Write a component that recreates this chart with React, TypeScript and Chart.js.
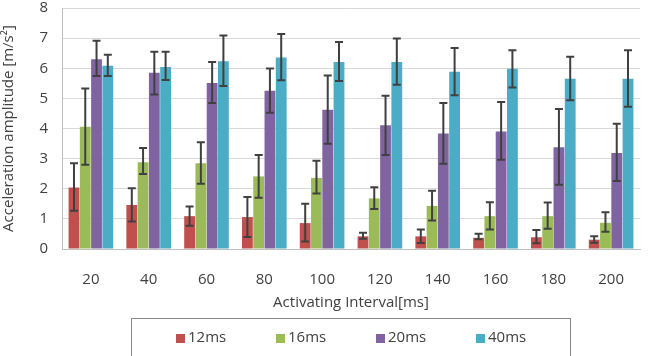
import React, { useEffect, useRef } from "react";
import { Chart, registerables } from "chart.js";

Chart.register(...registerables);

const categories = ["20", "40", "60", "80", "100", "120", "140", "160", "180", "200"];
const seriesNames = ["12ms", "16ms", "20ms", "40ms"];
const seriesColors = ["#C0504D", "#9BBB59", "#8064A2", "#4BACC6"];

const values12 = [2.04, 1.46, 1.09, 1.06, 0.86, 0.42, 0.42, 0.37, 0.39, 0.31];
const low12 = [1.27, 0.91, 0.77, 0.40, 0.25, 0.34, 0.20, 0.32, 0.19, 0.21];
const high12 = [2.85, 2.02, 1.41, 1.73, 1.50, 0.54, 0.65, 0.51, 0.63, 0.42];

const values16 = [4.06, 2.88, 2.85, 2.41, 2.36, 1.68, 1.43, 1.09, 1.09, 0.87];
const low16 = [2.80, 2.49, 2.17, 1.70, 1.84, 1.33, 0.95, 0.65, 0.67, 0.57];
const high16 = [5.33, 3.35, 3.54, 3.12, 2.93, 2.05, 1.93, 1.55, 1.54, 1.22];

const values20 = [6.30, 5.85, 5.51, 5.25, 4.62, 4.11, 3.83, 3.90, 3.38, 3.19];
const low20 = [5.74, 5.13, 4.85, 4.52, 3.49, 3.12, 2.83, 2.96, 2.13, 2.26];
const high20 = [6.91, 6.55, 6.21, 5.99, 5.76, 5.09, 4.85, 4.88, 4.65, 4.16];

const values40 = [6.08, 6.04, 6.23, 6.36, 6.21, 6.21, 5.88, 5.98, 5.65, 5.65];
const low40 = [5.74, 5.61, 5.41, 5.60, 5.58, 5.45, 5.10, 5.36, 4.94, 4.72];
const high40 = [6.45, 6.55, 7.09, 7.14, 6.87, 6.99, 6.67, 6.60, 6.38, 6.60];

const yTicks = [0, 1, 2, 3, 4, 5, 6, 7, 8];

const FONT = "'Open Sans', 'Liberation Sans', sans-serif";
const TEXT = "#404040";

export default function App() {
  const ref = useRef<HTMLCanvasElement | null>(null);

  useEffect(() => {
    document.body.style.margin = "0";
    const canvas = ref.current;
    if (!canvas) return;

    const allValues = [values12, values16, values20, values40];
    const lows = [low12, low16, low20, low40];
    const highs = [high12, high16, high20, high40];

    const errorBars = {
      id: "errorBars",
      afterDatasetsDraw(chart: any) {
        const ctx = chart.ctx;
        const yScale = chart.scales.y;
        ctx.save();
        ctx.strokeStyle = "#404040";
        ctx.lineWidth = 2;
        chart.data.datasets.forEach((_ds: any, di: number) => {
          const meta = chart.getDatasetMeta(di);
          meta.data.forEach((bar: any, i: number) => {
            const x = bar.x;
            const yl = yScale.getPixelForValue(lows[di][i]);
            const yh = yScale.getPixelForValue(highs[di][i]);
            const cap = 4;
            ctx.beginPath();
            ctx.moveTo(x, yl);
            ctx.lineTo(x, yh);
            ctx.moveTo(x - cap, yl);
            ctx.lineTo(x + cap, yl);
            ctx.moveTo(x - cap, yh);
            ctx.lineTo(x + cap, yh);
            ctx.stroke();
          });
        });
        ctx.restore();
      },
    };

    const legendBox = {
      id: "legendBox",
      afterDraw(chart: any) {
        const ctx = chart.ctx;
        ctx.save();
        ctx.strokeStyle = "#888888";
        ctx.lineWidth = 1;
        ctx.strokeRect(131.5, 318.5, 439, 60);
        ctx.font = `15px ${FONT}`;
        ctx.textBaseline = "middle";
        ctx.textAlign = "left";
        seriesNames.forEach((name, i) => {
          const x0 = 176 + i * 100;
          const yc = 338;
          ctx.fillStyle = seriesColors[i];
          ctx.fillRect(x0, yc - 4, 9, 9);
          ctx.fillStyle = TEXT;
          ctx.fillText(name, x0 + 12, yc);
        });
        ctx.restore();
      },
    };

    const chart = new Chart(canvas, {
      type: "bar",
      data: {
        labels: categories,
        datasets: seriesNames.map((name, i) => ({
          label: name,
          data: allValues[i],
          backgroundColor: seriesColors[i],
          borderWidth: 0,
          barPercentage: 0.96,
          categoryPercentage: 0.78,
        })),
      },
      options: {
        responsive: false,
        animation: false,
        layout: { padding: { left: 0, right: 9, top: 8, bottom: 44 } },
        plugins: {
          legend: { display: false },
          tooltip: { enabled: false },
        },
        scales: {
          x: {
            grid: { display: false },
            border: { display: true, color: "#BFBFBF" },
            ticks: { color: TEXT, font: { size: 15, family: FONT }, padding: 14, maxRotation: 0 },
            title: {
              display: true,
              text: "Activating Interval[ms]",
              color: TEXT,
              font: { size: 15, family: FONT },
              padding: { top: 0, bottom: 0 },
            },
            afterFit(scale: any) {
              scale.height = 63;
            },
          },
          y: {
            min: 0,
            max: 8,
            afterBuildTicks(scale: any) {
              scale.ticks = yTicks.map((v) => ({ value: v }));
            },
            grid: { color: "#D9D9D9", lineWidth: 1, drawTicks: false },
            border: { display: true, color: "#BFBFBF" },
            ticks: { color: TEXT, font: { size: 15, family: FONT }, padding: 14 },
            title: {
              display: true,
              text: "Acceleration amplitude [m/s²]",
              color: TEXT,
              font: { size: 15, family: FONT },
              padding: { top: 0, bottom: 3 },
            },
            afterFit(scale: any) {
              scale.width = 62;
              scale.paddingTop = 0;
              scale.paddingBottom = 0;
            },
          },
        },
      },
      plugins: [errorBars, legendBox],
    });

    return () => chart.destroy();
  }, []);

  return <canvas ref={ref} width={649} height={356} style={{ display: "block" }} />;
}
